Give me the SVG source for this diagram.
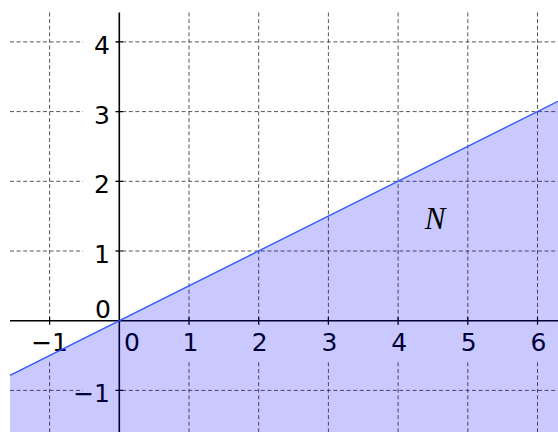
<svg xmlns="http://www.w3.org/2000/svg" width="558" height="432" viewBox="0 0 558 432">
<style>
.grid{stroke:#555;stroke-width:1;stroke-dasharray:4 2.6;fill:none}
.axis{stroke:#000;stroke-width:1.6;fill:none}
.tick{stroke:#000;stroke-width:1.2}
.bg{fill:#fff}
.lbl{font-family:"DejaVu Sans",sans-serif;font-size:25px;fill:#000}
.yl{text-anchor:end}
.xl{text-anchor:middle}
</style>
<rect width="558" height="432" fill="#fff"/>
<g id="grid">
<path class="grid" d="M49.6 12.5V432M189 12.5V432M258.7 12.5V432M328.4 12.5V432M398.1 12.5V432M467.8 12.5V432M537.5 12.5V432"/>
<path class="grid" d="M10 41.9H558M10 111.6H558M10 181.3H558M10 251H558M10 390.4H558"/>
</g>
<g id="label-bg">
<rect class="bg" x="83" y="28" width="31" height="30"/>
<rect class="bg" x="83" y="97.7" width="31" height="30"/>
<rect class="bg" x="83" y="167.4" width="31" height="30"/>
<rect class="bg" x="83" y="237.1" width="31" height="30"/>
<rect class="bg" x="83" y="376.5" width="31" height="30"/>
<rect class="bg" x="33" y="325" width="34" height="36.5"/>
<rect class="bg" x="177" y="325" width="26" height="36.5"/>
<rect class="bg" x="246.7" y="325" width="26" height="36.5"/>
<rect class="bg" x="316.4" y="325" width="26" height="36.5"/>
<rect class="bg" x="386.1" y="325" width="26" height="36.5"/>
<rect class="bg" x="455.8" y="325" width="26" height="36.5"/>
<rect class="bg" x="525.5" y="325" width="26" height="36.5"/>
</g>
<g id="axes">
<path class="axis" d="M119.3 12.5V432M10 320.7H558"/>
<path class="tick" d="M49.6 317V324.4M189 317V324.4M258.7 317V324.4M328.4 317V324.4M398.1 317V324.4M467.8 317V324.4M537.5 317V324.4M115.6 41.9H123M115.6 111.6H123M115.6 181.3H123M115.6 251H123M115.6 390.4H123"/>
</g>
<g id="labels">
<text class="lbl yl" x="110" y="54">4</text>
<text class="lbl yl" x="110" y="123.6">3</text>
<text class="lbl yl" x="110" y="193.3">2</text>
<text class="lbl yl" x="110" y="263">1</text>
<text class="lbl yl" x="111" y="317.5">0</text>
<text class="lbl yl" x="110" y="402">−1</text>
<text class="lbl xl" x="49.6" y="350.5">−1</text>
<text class="lbl" x="124" y="350.5">0</text>
<text class="lbl xl" x="190.5" y="350.5">1</text>
<text class="lbl xl" x="259.7" y="350.5">2</text>
<text class="lbl xl" x="329.4" y="350.5">3</text>
<text class="lbl xl" x="399.1" y="350.5">4</text>
<text class="lbl xl" x="468.8" y="350.5">5</text>
<text class="lbl xl" x="538.5" y="350.5">6</text>
</g>
<g id="region-N">
<polygon points="10,375.3 558,101.3 558,432 10,432" fill="#0000ff" fill-opacity="0.21"/>
<line x1="10" y1="375.3" x2="558" y2="101.3" stroke="#3355ff" stroke-width="1.4"/>
<text x="435" y="229" text-anchor="middle" font-family="'Liberation Serif',serif" font-style="italic" font-size="31">N</text>
</g>
</svg>
